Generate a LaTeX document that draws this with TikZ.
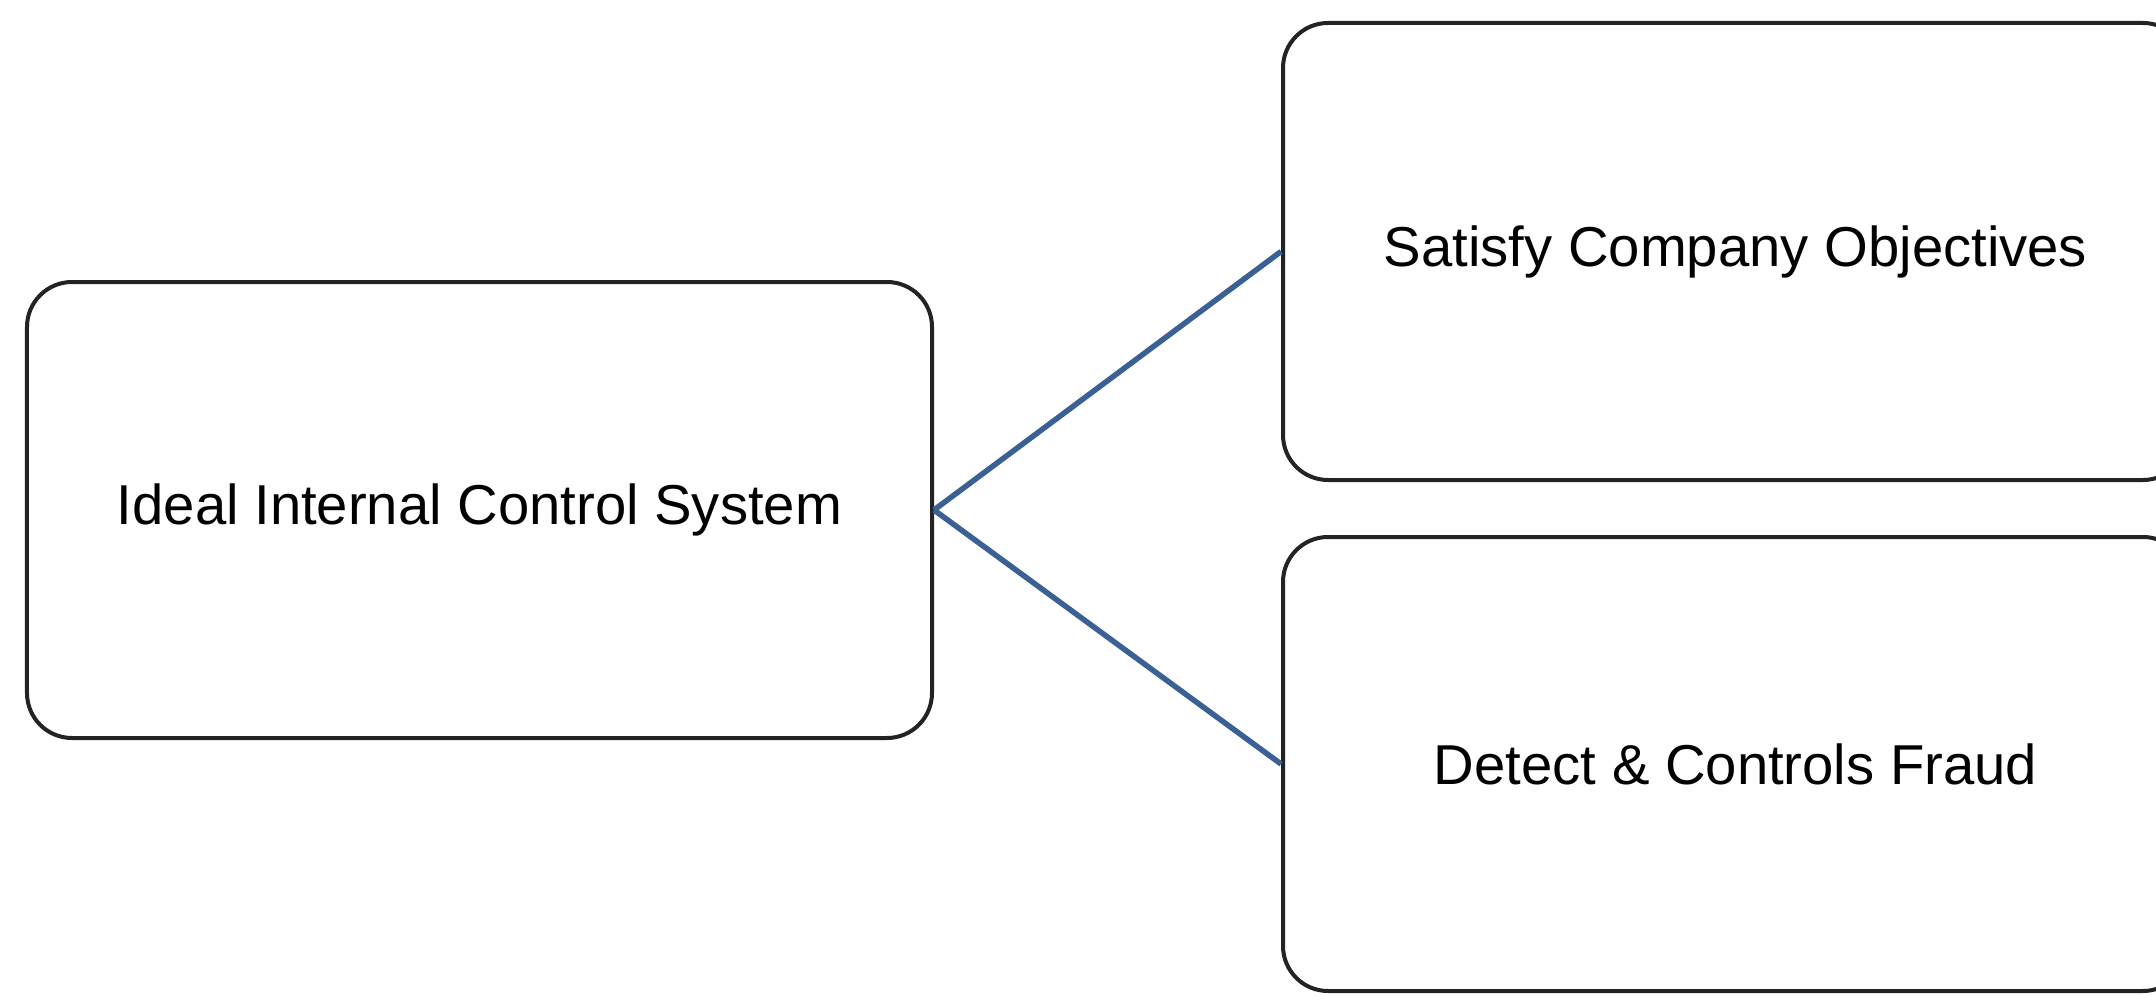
\documentclass[tikz,border=0pt]{standalone}
\usepackage{fontspec}
\setmainfont{Liberation Sans}
\usetikzlibrary{positioning}
\definecolor{linkblue}{RGB}{58, 96, 148}
\definecolor{boxline}{RGB}{35, 35, 35}
\tikzstyle{block} = [rectangle, rounded corners=0.45cm,
                     minimum width=9.05cm, minimum height=4.56cm,
                     text centered, draw=boxline, fill=white,
                     line width=0.4mm, font=\fontsize{16}{19}\selectfont]
\tikzstyle{link} = [draw=linkblue, line width=0.55mm]

\begin{document}
\begin{tikzpicture}
        \useasboundingbox[fill=white] (0,0) rectangle (21.56,9.95);
        \clip (0,0) rectangle (21.56,9.95);

        %System box
        \node (Ideal) [block] at (4.795, 4.85) {Ideal Internal Control System};

        %Goal boxes (cut off at the right edge)
        \node (Satisfy) [block, minimum height=4.57cm, right=3.47cm of Ideal, yshift=2.585cm] {Satisfy Company Objectives};
        \node (Detect) [block, minimum height=4.54cm, right=3.47cm of Ideal, yshift=-2.54cm] {Detect \& Controls Fraud};

        %Links
        \draw [link] (Ideal.east) -- (Satisfy.west);
        \draw [link] (Ideal.east) -- (Detect.west);

\end{tikzpicture}
\end{document}
